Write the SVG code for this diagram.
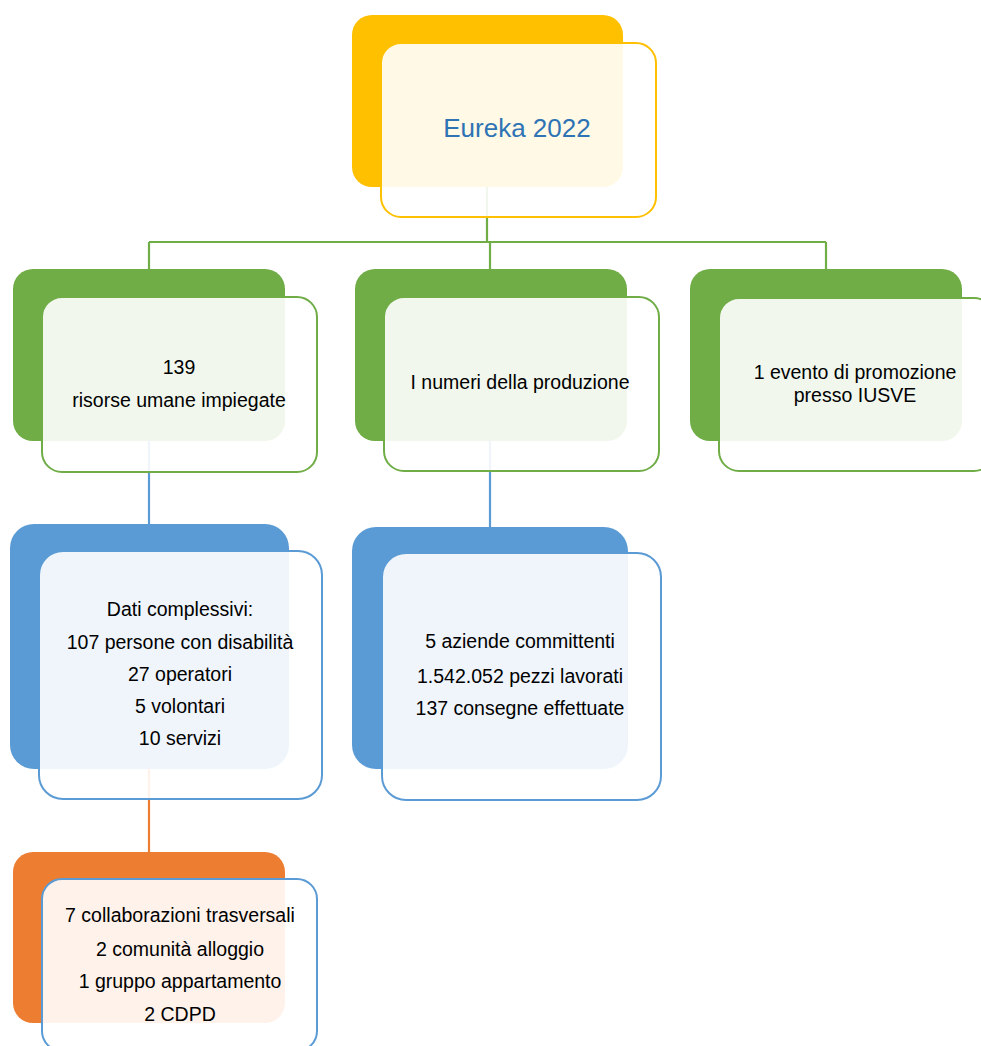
<svg xmlns="http://www.w3.org/2000/svg" width="981" height="1046" viewBox="0 0 981 1046">
<style>
.bg{fill:#ffffff}
.back{stroke:none}
.front{fill:#ffffff;fill-opacity:0.9;stroke-width:2}
.yel{fill:#FFC000}
.grn{fill:#70AD47}
.blu{fill:#5B9BD5}
.org{fill:#ED7D31}
.sy{stroke:#FFC000}
.sg{stroke:#70AD47}
.sb{stroke:#5B9BD5}
.t{font-family:"Liberation Sans",Arial,sans-serif;font-size:19.5px;fill:#000000;text-anchor:middle}
.title{font-family:"Liberation Sans",Arial,sans-serif;font-size:26px;fill:#2E74B5;text-anchor:middle}
.c{fill:none;stroke-width:2.2}
</style>
<rect class="bg" x="0" y="0" width="981" height="1046"/>
<g id="connectors">
<path class="c sg" d="M487 187 V242 M149 242 H826 M149 242 V269 M490 242 V269 M826 242 V269"/>
<path class="c sb" d="M149 441 V524 M490 441 V527"/>
<path class="c" stroke="#ED7D31" d="M149 769 V852"/>
</g>
<g id="root">
<rect class="back yel" x="352" y="15" width="271" height="172" rx="20"/>
<rect class="front sy" x="381" y="43" width="275" height="174" rx="20"/>
<text class="title" x="517" y="137">Eureka 2022</text>
</g>
<g id="n1">
<rect class="back grn" x="13" y="269" width="272" height="172" rx="20"/>
<rect class="front sg" x="42" y="297" width="275" height="175" rx="20"/>
<text class="t" x="179" y="374">139</text>
<text class="t" x="179" y="407">risorse umane impiegate</text>
</g>
<g id="n2">
<rect class="back grn" x="355" y="269" width="272" height="172" rx="20"/>
<rect class="front sg" x="384" y="297" width="275" height="174" rx="20"/>
<text class="t" x="520" y="389">I numeri della produzione</text>
</g>
<g id="n3">
<rect class="back grn" x="690" y="269" width="272" height="172" rx="20"/>
<rect class="front sg" x="719" y="298" width="275" height="173" rx="20"/>
<text class="t" x="855" y="379">1 evento di promozione</text>
<text class="t" x="855" y="402">presso IUSVE</text>
</g>
<g id="n4">
<rect class="back blu" x="10" y="524" width="279" height="245" rx="24"/>
<rect class="front sb" x="39" y="551" width="283" height="248" rx="24"/>
<text class="t" x="180" y="616">Dati complessivi:</text>
<text class="t" x="180" y="649">107 persone con disabilità</text>
<text class="t" x="180" y="681">27 operatori</text>
<text class="t" x="180" y="713">5 volontari</text>
<text class="t" x="180" y="745">10 servizi</text>
</g>
<g id="n5">
<rect class="back blu" x="352" y="527" width="276" height="242" rx="24"/>
<rect class="front sb" x="382" y="553" width="279" height="247" rx="24"/>
<text class="t" x="520" y="648">5 aziende committenti</text>
<text class="t" x="520" y="683">1.542.052 pezzi lavorati</text>
<text class="t" x="520" y="715">137 consegne effettuate</text>
</g>
<g id="n6">
<rect class="back org" x="13" y="852" width="272" height="171" rx="20"/>
<rect class="front sb" x="42" y="879" width="275" height="172" rx="20"/>
<text class="t" x="180" y="922">7 collaborazioni trasversali</text>
<text class="t" x="180" y="956">2 comunità alloggio</text>
<text class="t" x="180" y="988">1 gruppo appartamento</text>
<text class="t" x="180" y="1021">2 CDPD</text>
</g>
</svg>
